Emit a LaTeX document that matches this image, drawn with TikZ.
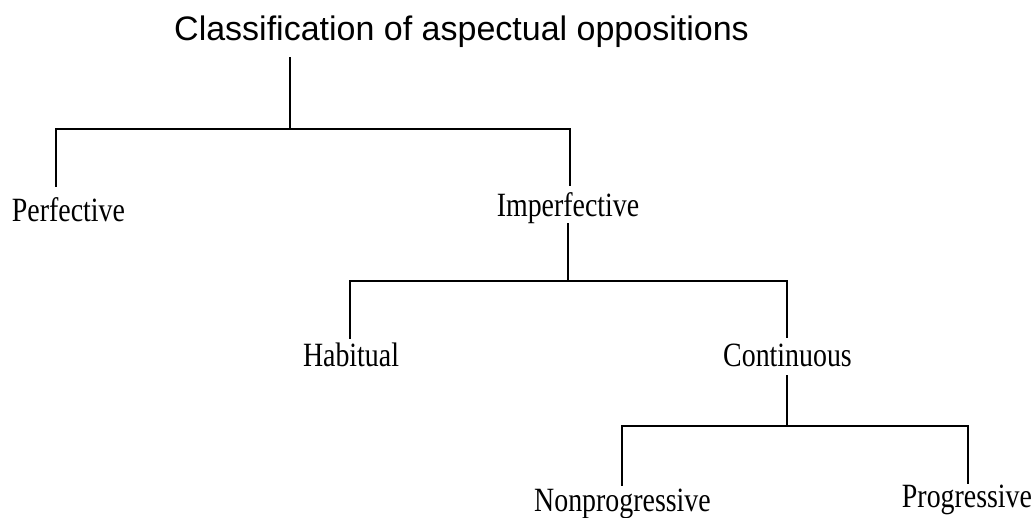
\documentclass[tikz,border=0pt]{standalone}
\usepackage{fontspec}
\setmainfont{Liberation Serif}
\newfontfamily\titlefont{Liberation Sans}
\newfontfamily\labelfont[FakeStretch=0.82]{Liberation Serif}
\begin{document}
\begin{tikzpicture}[x=1pt,y=-1pt,
  treeline/.style={draw=black,line width=1.8pt,line join=miter},
  titlelabel/.style={anchor=base,inner sep=0pt,font=\titlefont\fontsize{34}{34}\selectfont},
  leaflabel/.style={anchor=base,inner sep=0pt,text height=21pt,text depth=7pt,
    font=\labelfont\fontsize{34}{34}\selectfont}]
\useasboundingbox[fill=white] (0,0) rectangle (1036,517);

% labels
\node[titlelabel] (title) at (461.5,40) {Classification of aspectual oppositions};
\node[leaflabel] (perf) at (68.5,221) {Perfective};
\node[leaflabel] (imperf) at (568,216) {Imperfective};
\node[leaflabel] (habit) at (351,366) {Habitual};
\node[leaflabel] (cont) at (787.5,366) {Continuous};
\node[leaflabel] (nonprog) at (622.5,511) {Nonprogressive};
\node[leaflabel] (prog) at (967,507) {Progressive};

% bar coordinates
\coordinate (b1m) at (290,129);
\coordinate (b1l) at (56,129);
\coordinate (b1r) at (570,129);
\coordinate (b2l) at (350,281);
\coordinate (b2r) at (787,281);
\coordinate (b2m) at (568,281);
\coordinate (b3l) at (622,426);
\coordinate (b3r) at (968,426);
\coordinate (b3m) at (787,426);

% first level
\draw[treeline] ([yshift=-10pt]title.south -| b1m) -- (b1m);
\draw[treeline] ([yshift=13pt]perf.north -| b1l) -- (b1l) -- (b1r) -- ([yshift=9pt]imperf.north -| b1r);

% second level
\draw[treeline] (imperf.south -| b2m) -- (b2m);
\draw[treeline] ([yshift=6pt]habit.north -| b2l) -- (b2l) -- (b2r) -- ([yshift=7pt]cont.north -| b2r);

% third level
\draw[treeline] ([yshift=-2pt]cont.south -| b3m) -- (b3m);
\draw[treeline] ([yshift=4pt]nonprog.north -| b3l) -- (b3l) -- (b3r) -- ([yshift=2pt]prog.north -| b3r);
\end{tikzpicture}
\end{document}
